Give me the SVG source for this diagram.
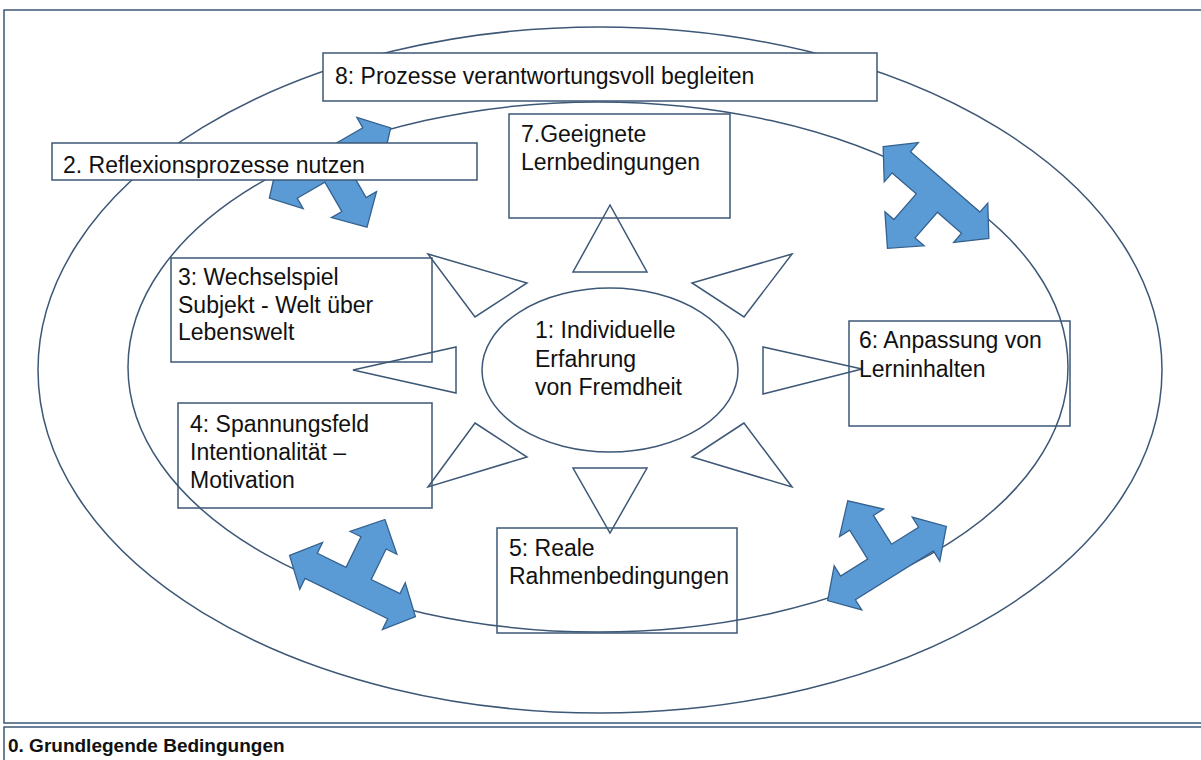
<svg xmlns="http://www.w3.org/2000/svg" width="1201" height="760" viewBox="0 0 1201 760">
<style>
.ln{fill:none;stroke:#3D5876;stroke-width:1.5}
.bx{fill:none;stroke:#3D5876;stroke-width:1.5}
.wb{fill:#fff;stroke:#3D5876;stroke-width:1.5}
.tri{fill:none;stroke:#3D5876;stroke-width:1.5}
.arr{fill:#5B9BD5;stroke:#34618E;stroke-width:1.3;stroke-linejoin:miter}
.t{font-family:"Liberation Sans",Arial,sans-serif;font-size:23px;fill:#111}
.tb{font-family:"Liberation Sans",Arial,sans-serif;font-size:19px;font-weight:bold;fill:#111}
</style>
<defs>
<path id="tarrow" d="M -70 0 L -46 -26 L -46 -14 L 46 -14 L 46 -26 L 70 0 L 46 26 L 46 14 L 14 14 L 14 48 L 26 48 L 0 74 L -26 48 L -14 48 L -14 14 L -46 14 L -46 26 Z"/>
</defs>
<rect width="1201" height="760" fill="#fff"/>
<g id="frame">
<rect x="4" y="10" width="1210" height="713" class="ln" stroke-width="2"/>
<rect x="4" y="727" width="1210" height="50" class="ln" stroke-width="2"/>
<text class="tb" x="8" y="752">0. Grundlegende Bedingungen</text>
</g>
<g id="outer-ellipse"><ellipse cx="600" cy="370" rx="562" ry="343" class="ln"/></g>
<g id="inner-ellipse"><ellipse cx="598" cy="367" rx="470" ry="265" class="ln"/></g>
<g id="connectors">
<use href="#tarrow" class="arr" transform="translate(330,163) rotate(-30)"/>
<use href="#tarrow" class="arr" transform="translate(936,192.5) rotate(41)"/>
<use href="#tarrow" class="arr" transform="translate(352.5,586) rotate(206)"/>
<use href="#tarrow" class="arr" transform="translate(887,563.5) rotate(148)"/>
<polygon class="tri" points="610,205 573,272 647,272"/>
<polygon class="tri" points="573,468 647,468 610,533"/>
<polygon class="tri" points="428,254 527,283 475,317"/>
<polygon class="tri" points="792,254 692,283 744,317"/>
<polygon class="tri" points="456,347 456,393 353,370"/>
<polygon class="tri" points="763,347 763,394 862,369"/>
<polygon class="tri" points="475,423 527,457 428,487"/>
<polygon class="tri" points="744,423 692,457 792,487"/>
</g>
<g id="node1">
<ellipse cx="610" cy="370" rx="128" ry="82" class="ln"/>
<text class="t" x="535" y="338">1: Individuelle</text>
<text class="t" x="535" y="367">Erfahrung</text>
<text class="t" x="535" y="395">von Fremdheit</text>
</g>
<g id="node2">
<rect x="52" y="143" width="425" height="37" class="wb"/>
<text class="t" x="63" y="173">2. Reflexionsprozesse nutzen</text>
</g>
<g id="node3">
<rect x="171" y="258" width="261" height="104" class="bx"/>
<text class="t" x="178" y="285">3: Wechselspiel</text>
<text class="t" x="178" y="313">Subjekt - Welt über</text>
<text class="t" x="178" y="340">Lebenswelt</text>
</g>
<g id="node4">
<rect x="178" y="403" width="254" height="105" class="bx"/>
<text class="t" x="190" y="432">4: Spannungsfeld</text>
<text class="t" x="190" y="460">Intentionalität –</text>
<text class="t" x="190" y="488">Motivation</text>
</g>
<g id="node5">
<rect x="497" y="528" width="240" height="105" class="bx"/>
<text class="t" x="509" y="556">5: Reale</text>
<text class="t" x="509" y="584">Rahmenbedingungen</text>
</g>
<g id="node6">
<rect x="849" y="321" width="221" height="105" class="bx"/>
<text class="t" x="859" y="348">6: Anpassung von</text>
<text class="t" x="859" y="377">Lerninhalten</text>
</g>
<g id="node7">
<rect x="509" y="114" width="221" height="104" class="bx"/>
<text class="t" x="521" y="142">7.Geeignete</text>
<text class="t" x="521" y="170">Lernbedingungen</text>
</g>
<g id="node8">
<rect x="323" y="53" width="554" height="48" class="wb"/>
<text class="t" x="335" y="84">8: Prozesse verantwortungsvoll begleiten</text>
</g>
</svg>
